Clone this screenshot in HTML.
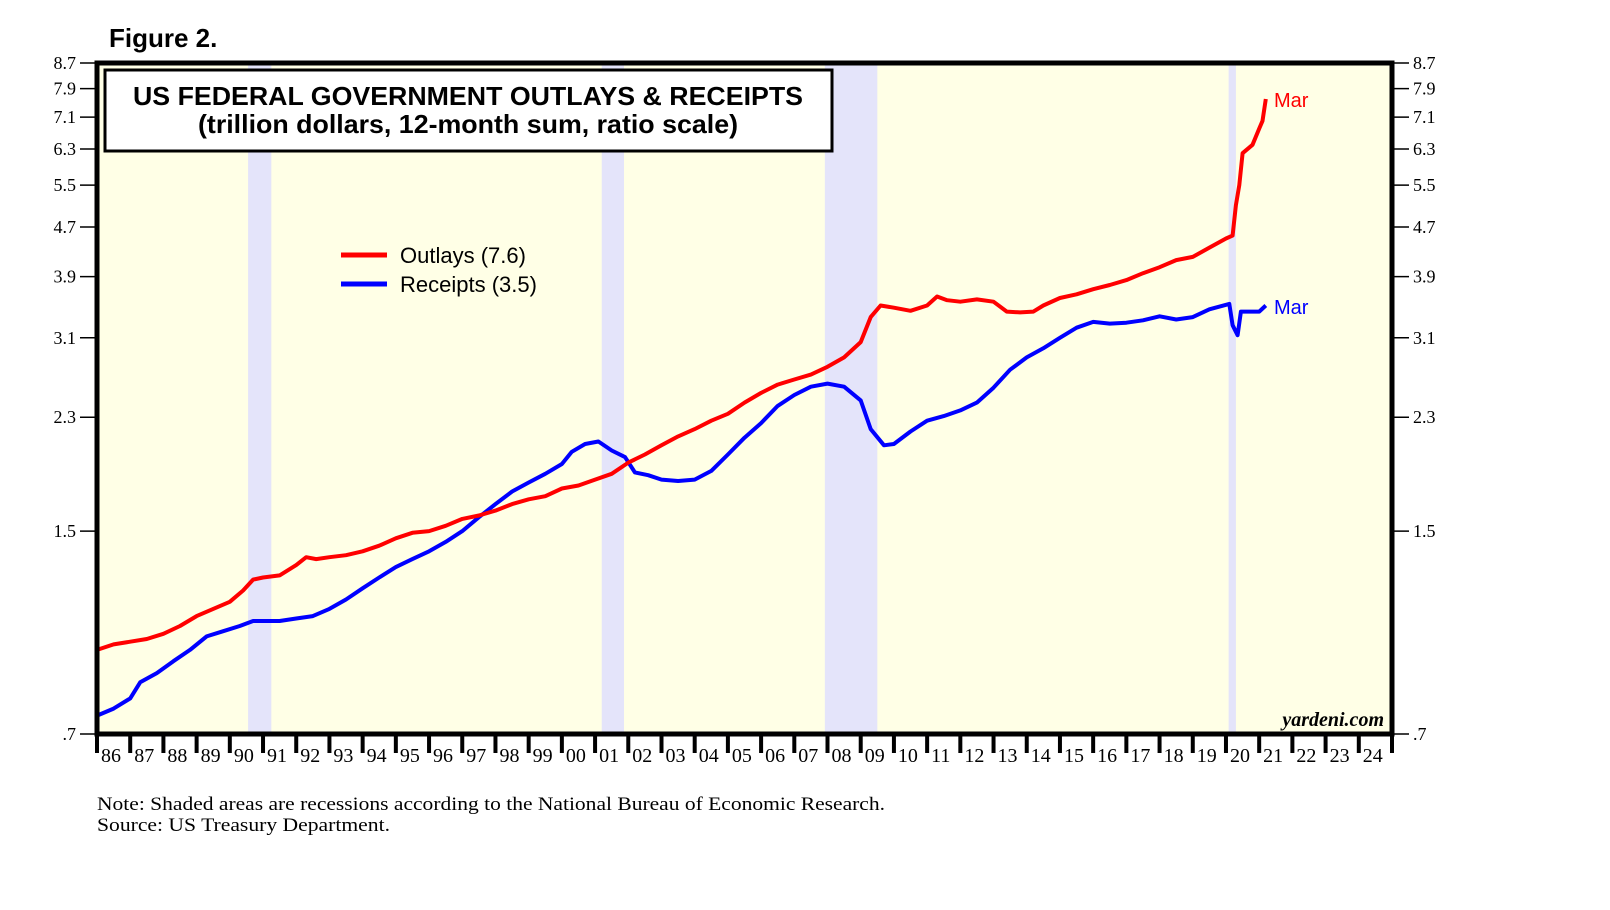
<!DOCTYPE html>
<html><head><meta charset="utf-8"><style>
html,body{margin:0;padding:0;background:#fff;width:1610px;height:910px;overflow:hidden}
svg text{font-family:"Liberation Serif",serif}
</style></head><body>
<svg id="chart" width="1610" height="910" xmlns="http://www.w3.org/2000/svg">
<g id="bg"></g><g id="rec"></g><g id="grid"></g><g id="series"></g><g id="axes"></g>
</svg>
<script>
const yearLabels=["86","87","88","89","90","91","92","93","94","95","96","97","98","99","00","01","02","03","04","05","06","07","08","09","10","11","12","13","14","15","16","17","18","19","20","21","22","23","24"];
const yTicks=[0.7,1.5,2.3,3.1,3.9,4.7,5.5,6.3,7.1,7.9,8.7];
const yTickLabels=[".7","1.5","2.3","3.1","3.9","4.7","5.5","6.3","7.1","7.9","8.7"];
const recStart=[1990.55,2001.2,2007.92,2020.08];
const recEnd=[1991.25,2001.87,2009.5,2020.3];
const outlayX=[1986.0,1986.5,1987.0,1987.5,1988.0,1988.5,1989.0,1989.5,1990.0,1990.4,1990.7,1991.0,1991.5,1992.0,1992.3,1992.6,1993.0,1993.5,1994.0,1994.5,1995.0,1995.5,1996.0,1996.5,1997.0,1997.5,1998.0,1998.5,1999.0,1999.5,2000.0,2000.5,2001.0,2001.5,2002.0,2002.5,2003.0,2003.5,2004.0,2004.5,2005.0,2005.5,2006.0,2006.5,2007.0,2007.5,2008.0,2008.5,2009.0,2009.3,2009.6,2010.0,2010.5,2011.0,2011.3,2011.6,2012.0,2012.5,2013.0,2013.4,2013.8,2014.2,2014.5,2015.0,2015.5,2016.0,2016.5,2017.0,2017.5,2018.0,2018.5,2019.0,2019.5,2020.0,2020.2,2020.3,2020.4,2020.5,2020.8,2021.0,2021.1,2021.2];
const outlayV=[0.96,0.98,0.99,1.00,1.02,1.05,1.09,1.12,1.15,1.20,1.25,1.26,1.27,1.32,1.36,1.35,1.36,1.37,1.39,1.42,1.46,1.49,1.50,1.53,1.57,1.59,1.62,1.66,1.69,1.71,1.76,1.78,1.82,1.86,1.94,2.00,2.07,2.14,2.20,2.27,2.33,2.43,2.52,2.60,2.65,2.70,2.78,2.88,3.05,3.35,3.50,3.47,3.43,3.50,3.62,3.57,3.55,3.58,3.55,3.42,3.41,3.42,3.50,3.60,3.65,3.72,3.78,3.85,3.95,4.04,4.15,4.20,4.35,4.50,4.55,5.1,5.5,6.2,6.4,6.8,7.0,7.6];
const receiptX=[1986.0,1986.5,1987.0,1987.3,1987.8,1988.3,1988.8,1989.3,1989.8,1990.3,1990.7,1991.0,1991.5,1992.0,1992.5,1993.0,1993.5,1994.0,1994.5,1995.0,1995.5,1996.0,1996.5,1997.0,1997.5,1998.0,1998.5,1999.0,1999.5,2000.0,2000.3,2000.7,2001.1,2001.5,2001.9,2002.2,2002.6,2003.0,2003.5,2004.0,2004.5,2005.0,2005.5,2006.0,2006.5,2007.0,2007.5,2008.0,2008.5,2009.0,2009.3,2009.7,2010.0,2010.5,2011.0,2011.5,2012.0,2012.5,2013.0,2013.5,2014.0,2014.5,2015.0,2015.5,2016.0,2016.5,2017.0,2017.5,2018.0,2018.5,2019.0,2019.5,2020.1,2020.2,2020.35,2020.45,2020.8,2021.0,2021.2];
const receiptV=[0.75,0.77,0.80,0.85,0.88,0.92,0.96,1.01,1.03,1.05,1.07,1.07,1.07,1.08,1.09,1.12,1.16,1.21,1.26,1.31,1.35,1.39,1.44,1.50,1.58,1.66,1.74,1.80,1.86,1.93,2.02,2.08,2.10,2.03,1.98,1.87,1.85,1.82,1.81,1.82,1.88,2.00,2.13,2.25,2.40,2.50,2.58,2.61,2.58,2.45,2.20,2.07,2.08,2.18,2.27,2.31,2.36,2.43,2.57,2.75,2.88,2.98,3.10,3.22,3.29,3.27,3.28,3.31,3.36,3.32,3.35,3.45,3.52,3.25,3.13,3.42,3.42,3.42,3.50];

const L=97,R=1392,T=63,B=734;
const x=yr=>L+(yr-1986)*(R-L)/39;
const y=v=>B-(Math.log(v/0.7)/Math.log(8.7/0.7))*(B-T);
const NS="http://www.w3.org/2000/svg";
function mk(tag,parent,attrs,text){const e=document.createElementNS(NS,tag);for(const k in attrs)e.setAttribute(k,attrs[k]);if(text!==undefined)e.textContent=text;document.getElementById(parent).appendChild(e);return e;}

let e=mk('rect','bg',{x:L,y:T,width:R-L,height:B-T,fill:'#ffffe6'});


recStart.forEach((s,i)=>{
  const r=mk('rect','rec',{x:x(s),y:T,width:x(recEnd[i])-x(s),height:B-T,fill:'#e4e4fa'});
  
  
});
function line(xs,vs,color,name){
  const d=xs.map((a,i)=>(i?'L':'M')+x(a).toFixed(1)+','+y(vs[i]).toFixed(1)).join('');
  const p=mk('path','series',{d:d,fill:'none',stroke:color,'stroke-width':4,'stroke-linejoin':'round'});
  
  
}
line(receiptX,receiptV,'#0000ff','receipts-line');
line(outlayX,outlayV,'#ff0000','outlays-line');
e=mk('rect','axes',{x:L,y:T,width:R-L,height:B-T,fill:'none',stroke:'#000','stroke-width':5});


yTicks.forEach((v,i)=>{
  const yy=y(v);
  mk('line','axes',{x1:80,x2:L,y1:yy,y2:yy,stroke:'#000','stroke-width':1.5});
  mk('line','axes',{x1:R,x2:R+17,y1:yy,y2:yy,stroke:'#000','stroke-width':1.5});
  let t=mk('text','axes',{x:76,y:yy+6,'text-anchor':'end','font-size':18},yTickLabels[i]);
  
  
  t=mk('text','axes',{x:1413,y:yy+6,'font-size':18},yTickLabels[i]);
  
  
});
yearLabels.forEach((lab,i)=>{
  const xx=x(1986+i);
  mk('line','axes',{x1:xx,x2:xx,y1:B,y2:B+19,stroke:'#000','stroke-width':4});
  const t=mk('text','axes',{x:xx+4,y:B+28,'font-size':20},lab);
  
  
});
mk('line','axes',{x1:R,x2:R,y1:B,y2:B+19,stroke:'#000','stroke-width':4});
</script>
<svg style="position:absolute;left:0;top:0" width="1610" height="910" xmlns="http://www.w3.org/2000/svg">
<text x="109" y="47" font-size="26" font-weight="bold" style="font-family:'Liberation Sans',sans-serif">Figure 2.</text>
<rect x="105" y="70" width="727" height="81" fill="#fff" stroke="#000" stroke-width="3"/>
<text x="468" y="105" text-anchor="middle" font-size="26" font-weight="bold" style="font-family:'Liberation Sans',sans-serif" textLength="670" lengthAdjust="spacingAndGlyphs">US FEDERAL GOVERNMENT OUTLAYS &amp; RECEIPTS</text>
<text x="468" y="133" text-anchor="middle" font-size="26" font-weight="bold" style="font-family:'Liberation Sans',sans-serif" textLength="540" lengthAdjust="spacingAndGlyphs">(trillion dollars, 12-month sum, ratio scale)</text>
<g>
<line x1="341" x2="387" y1="255" y2="255" stroke="#ff0000" stroke-width="5"/>
<text x="400" y="263" font-size="22" style="font-family:'Liberation Sans',sans-serif">Outlays (7.6)</text>
<line x1="341" x2="387" y1="284" y2="284" stroke="#0000ff" stroke-width="5"/>
<text x="400" y="292" font-size="22" style="font-family:'Liberation Sans',sans-serif">Receipts (3.5)</text>
</g>
<text x="1274" y="107" font-size="20" fill="#ff0000" style="font-family:'Liberation Sans',sans-serif">Mar</text>
<text x="1274" y="314" font-size="20" fill="#0000ff" style="font-family:'Liberation Sans',sans-serif">Mar</text>
<text x="1384" y="726" text-anchor="end" font-size="20" font-style="italic" font-weight="bold" style="font-family:'Liberation Serif',serif">yardeni.com</text>
<text x="97" y="810" font-size="19" style="font-family:'Liberation Serif',serif" textLength="788" lengthAdjust="spacingAndGlyphs">Note: Shaded areas are recessions according to the National Bureau of Economic Research.</text>
<text x="97" y="831" font-size="19" style="font-family:'Liberation Serif',serif" textLength="293" lengthAdjust="spacingAndGlyphs">Source: US Treasury Department.</text>
</svg>
</body></html>
